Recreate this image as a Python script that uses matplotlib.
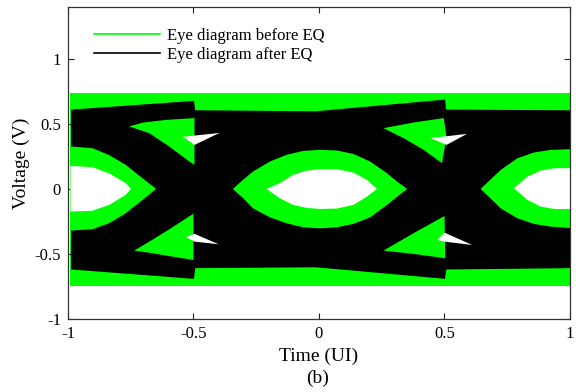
import matplotlib
matplotlib.use("Agg")
import matplotlib.pyplot as plt
from matplotlib.lines import Line2D

plt.rcParams['font.family'] = ['Liberation Serif', 'DejaVu Serif']

GREEN = '#00ff00'

# ---------------- data ----------------
# outer envelope of the "before EQ" traces
band_t = [-0.99, 1.0]
band_top = [0.74, 0.74]
band_bot = [-0.744, -0.744]

# outer envelope of the "after EQ" traces
black_t = [-0.99, -0.5, -0.495, -0.016, 0.5, 0.505, 1.0]
black_top = [0.613, 0.68, 0.608, 0.60, 0.69, 0.613, 0.608]
black_bot = [-0.615, -0.687, -0.605, -0.598, -0.687, -0.615, -0.605]

# central eye: area reached only by "before EQ" traces
geye_c_t = [-0.343, -0.303, -0.263, -0.196, -0.129, -0.063, 0.004, 0.071, 0.137, 0.204, 0.271, 0.311, 0.351]
geye_c_up = [0.0, 0.069, 0.133, 0.21, 0.262, 0.292, 0.30, 0.295, 0.269, 0.21, 0.12, 0.056, 0.0]
geye_c_lo = [0.0, -0.07, -0.149, -0.218, -0.264, -0.295, -0.303, -0.295, -0.269, -0.218, -0.123, -0.06, 0.0]
# central eye opening (no traces)
weye_c_t = [-0.209, -0.156, -0.103, -0.049, 0.004, 0.071, 0.137, 0.191, 0.231]
weye_c_up = [0.0, 0.044, 0.108, 0.141, 0.151, 0.151, 0.126, 0.069, 0.0]
weye_c_lo = [0.0, -0.072, -0.123, -0.146, -0.154, -0.151, -0.123, -0.059, 0.0]

# left half eye
geye_l_t = [-0.99, -0.903, -0.836, -0.77, -0.703, -0.649]
geye_l_up = [0.326, 0.313, 0.26, 0.185, 0.082, 0.0]
geye_l_lo = [-0.32, -0.31, -0.264, -0.187, -0.085, 0.0]
weye_l_t = [-0.99, -0.903, -0.836, -0.77, -0.749]
weye_l_up = [0.177, 0.167, 0.12, 0.044, 0.0]
weye_l_lo = [-0.174, -0.168, -0.123, -0.046, 0.0]

# right half eye
geye_r_t = [0.644, 0.724, 0.791, 0.857, 0.924, 1.0]
geye_r_up = [0.0, 0.146, 0.236, 0.28, 0.30, 0.305]
geye_r_lo = [0.0, -0.149, -0.226, -0.269, -0.29, -0.30]
weye_r_t = [0.777, 0.831, 0.884, 0.937, 1.0]
weye_r_up = [0.005, 0.095, 0.141, 0.159, 0.159]
weye_r_lo = [0.005, -0.085, -0.136, -0.154, -0.155]

# wedges near the crossings (t, v vertices)
wedge_ul_t = [-0.756, -0.70, -0.61, -0.496, -0.496, -0.516, -0.596, -0.676]
wedge_ul_v = [0.48, 0.51, 0.53, 0.544, 0.185, 0.21, 0.325, 0.428]
wedge_ll_t = [-0.736, -0.676, -0.596, -0.50, -0.50, -0.60, -0.676]
wedge_ll_v = [-0.474, -0.405, -0.31, -0.19, -0.546, -0.515, -0.49]
wedge_ur_t = [0.257, 0.377, 0.497, 0.508, 0.49, 0.417, 0.337]
wedge_ur_v = [0.467, 0.51, 0.544, 0.40, 0.198, 0.30, 0.39]
wedge_lr_t = [0.257, 0.377, 0.50, 0.503, 0.38]
wedge_lr_v = [-0.474, -0.34, -0.208, -0.533, -0.50]

spike_ul_t = [-0.543, -0.396, -0.496, -0.52]
spike_ul_v = [0.40, 0.43, 0.338, 0.37]
spike_ll_t = [-0.53, -0.496, -0.40, -0.496]
spike_ll_v = [-0.37, -0.345, -0.425, -0.405]
spike_ur_t = [0.444, 0.59, 0.508, 0.47]
spike_ur_v = [0.39, 0.423, 0.338, 0.37]
spike_lr_t = [0.471, 0.50, 0.611, 0.50]
spike_lr_v = [-0.392, -0.336, -0.431, -0.405]

xticks = [-1, -0.5, 0, 0.5, 1]
xticklabels = ['-1', '-0.5', '0', '0.5', '1']
yticks = [-1, -0.5, 0, 0.5, 1]
yticklabels = ['-1', '-0.5', '0', '0.5', '1']
legend_labels = ['Eye diagram before EQ', 'Eye diagram after EQ']

# ---------------- drawing ----------------
fig = plt.figure(figsize=(5.76, 3.92), dpi=100)
ax = fig.add_axes([0.118, 0.186, 0.8716, 0.797])


def eye(t, up, lo, color):
    ax.fill(list(t) + list(t[::-1]), list(up) + list(lo[::-1]),
            color=color, lw=0, zorder=3 if color == GREEN else 4)


ax.fill_between(band_t, band_bot, band_top, color=GREEN, lw=0, zorder=1)
ax.fill_between(black_t, black_bot, black_top, color='black', lw=0, zorder=2)

eye(geye_c_t, geye_c_up, geye_c_lo, GREEN)
eye(geye_l_t, geye_l_up, geye_l_lo, GREEN)
eye(geye_r_t, geye_r_up, geye_r_lo, GREEN)
for tt, vv in [(wedge_ul_t, wedge_ul_v), (wedge_ll_t, wedge_ll_v),
               (wedge_ur_t, wedge_ur_v), (wedge_lr_t, wedge_lr_v)]:
    ax.fill(tt, vv, color=GREEN, lw=0, zorder=3)

eye(weye_c_t, weye_c_up, weye_c_lo, 'white')
eye(weye_l_t, weye_l_up, weye_l_lo, 'white')
eye(weye_r_t, weye_r_up, weye_r_lo, 'white')
for tt, vv in [(spike_ul_t, spike_ul_v), (spike_ll_t, spike_ll_v),
               (spike_ur_t, spike_ur_v), (spike_lr_t, spike_lr_v)]:
    ax.fill(tt, vv, color='white', lw=0, zorder=4)

ax.set_xlim(-1, 1)
ax.set_ylim(-1, 1.4)
ax.set_xticks(xticks)
ax.set_xticklabels(xticklabels)
ax.set_yticks(yticks)
ax.set_yticklabels(yticklabels)
ax.tick_params(direction='in', top=True, right=True, length=4.5, width=0.8,
               labelsize=12, pad=5, colors='#222222', labelcolor='black')
for s in ax.spines.values():
    s.set_color('#333333')
    s.set_linewidth(0.9)
    s.set_zorder(10)

ax.set_xlabel('Time (UI)', fontsize=14, labelpad=4)
ax.set_ylabel('Voltage (V)', fontsize=14, labelpad=3)

handles = [Line2D([], [], color=GREEN, lw=1.2), Line2D([], [], color='black', lw=1.2)]
ax.legend(handles, legend_labels, loc='upper left', bbox_to_anchor=(0.029, 0.968),
          frameon=False, fontsize=12, handlelength=3.96, handletextpad=0.4,
          labelspacing=0.16, borderaxespad=0.3)

fig.text(0.552, 0.035, '(b)', ha='center', va='center', fontsize=14)

fig.savefig('out.png', dpi=100)
